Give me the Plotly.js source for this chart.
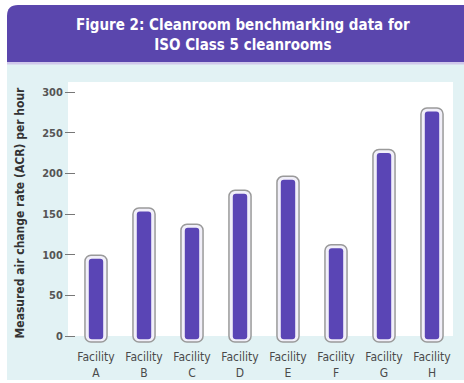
<!DOCTYPE html>
<html>
<head>
<meta charset="utf-8">
<script src="https://cdn.plot.ly/plotly-3.0.1.min.js"></script>
<style>html,body{margin:0;padding:0;background:#fff;}#chart{width:464px;height:383px;}</style>
</head>
<body>
<div id="chart"></div>
<script>
// ---- data ----
const facilities = ["A", "B", "C", "D", "E", "F", "G", "H"];
const acrValues = [97, 155, 135, 177, 194, 110, 227, 278];
const yTickValues = [0, 50, 100, 150, 200, 250, 300];
const titleLines = ["Figure 2: Cleanroom benchmarking data for", "ISO Class 5 cleanrooms"];
const yTitle = "Measured air change rate (ACR) per hour";

// ---- layout geometry (pixels) ----
const W = 464, H = 383;
const L = 76, R = 11, T = 82, B = 39;
const pw = W - L - R, ph = H - T - B;
const fx = p => (p - L) / pw;
const fy = p => (H - B - p) / ph;

const FONT = "'DejaVu Sans Condensed', 'Liberation Sans Narrow', sans-serif";
const cats = facilities.map(f => "Facility<br>" + f);
const yMin = -9.84, yMax = 312.3;

const outerBase = -7.5, innerBase = -4;
const outer = {
  type: "bar", x: cats,
  y: acrValues.map(v => v + 2.3 - outerBase), base: outerBase,
  width: 0.46,
  marker: {color: "#f1eff9", line: {color: "#9a9a9a", width: 1.5}, cornerradius: 6},
  hoverinfo: "skip"
};
const inner = {
  type: "bar", x: cats,
  y: acrValues.map(v => v - 2 - innerBase), base: innerBase,
  width: 0.30,
  marker: {color: "#5a45b5", line: {width: 0}, cornerradius: 3},
  hovertemplate: "%{x}: %{customdata}<extra></extra>", customdata: acrValues
};

const shapes = [
  {type: "rect", xref: "paper", yref: "paper", x0: fx(7), x1: fx(464), y0: fy(380), y1: fy(63),
   fillcolor: "#e2f2f4", line: {width: 0}, layer: "below"},
  {type: "rect", xref: "paper", yref: "paper", x0: fx(7), x1: fx(464), y0: fy(64.5), y1: fy(61),
   fillcolor: "#cfc8ea", line: {width: 0}, layer: "below"},
  {type: "path", xref: "paper", yref: "paper",
   path: `M ${fx(7)} ${fy(62)} L ${fx(7)} ${fy(16)} Q ${fx(7)} ${fy(5)} ${fx(18)} ${fy(5)} L ${fx(464)} ${fy(5)} L ${fx(464)} ${fy(62)} Z`,
   fillcolor: "#5a46ad", line: {width: 0}, layer: "below"},
  {type: "rect", xref: "paper", yref: "y", x0: fx(68), x1: 1, y0: 0, y1: yMax,
   fillcolor: "#ffffff", line: {width: 0}, layer: "below"}
];

const layout = {
  width: W, height: H,
  margin: {l: L, r: R, t: T, b: B, pad: 0},
  paper_bgcolor: "#ffffff",
  plot_bgcolor: "rgba(0,0,0,0)",
  barmode: "overlay",
  showlegend: false,
  font: {family: FONT, color: "#555"},
  annotations: [{
    text: "<b>" + titleLines.join("<br>") + "</b>",
    xref: "paper", yref: "paper", x: fx(243), y: fy(35),
    xanchor: "center", yanchor: "middle", showarrow: false,
    font: {family: FONT, size: 15, color: "#ffffff"}
  }],
  xaxis: {
    range: [(L - 96) / 48, (W - R - 96) / 48],
    showgrid: false, zeroline: false, showline: false, ticks: "",
    ticklabelstandoff: 4,
    tickfont: {family: FONT, size: 12, color: "#4a4a4a"},
    fixedrange: true
  },
  yaxis: {
    range: [yMin, yMax],
    tickvals: yTickValues,
    ticks: "outside", ticklen: 10, tickwidth: 1, tickcolor: "#777",
    showgrid: false, zeroline: false, showline: false,
    tickfont: {family: FONT, size: 11, color: "#555", weight: "bold"},
    title: {text: "<b>" + yTitle + "</b>", font: {family: FONT, size: 12, color: "#333"}, standoff: 14},
    fixedrange: true
  },
  shapes: shapes
};

Plotly.newPlot("chart", [outer, inner], layout, {displayModeBar: false, staticPlot: true});
</script>
</body>
</html>
